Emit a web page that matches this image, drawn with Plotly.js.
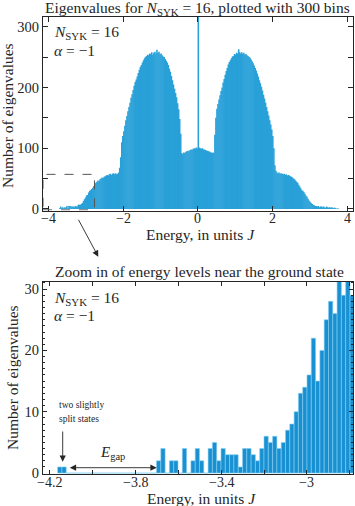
<!DOCTYPE html>
<html>
<head>
<meta charset="utf-8">
<script src="https://cdn.plot.ly/plotly-3.0.1.min.js"></script>
<style>
  html, body { margin: 0; padding: 0; background: #fff; }
  #plot { width: 355px; height: 506px; }
</style>
</head>
<body>
<div id="plot"></div>
<script>
// full spectrum, 300 bins between topEdgeMin and topEdgeMax
var topEdgeMin = -4.16;
var topEdgeMax = 4.16;
var topCounts = [
    1, 1, 0, 0, 0, 0, 0, 0, 0, 0,
    0, 0, 0, 0, 0, 0, 1, 4, 1, 3,
    1, 3, 2, 5, 1, 5, 5, 4, 4, 4,
    3, 5, 4, 4, 7, 7, 7, 8, 10, 13,
    16, 19, 22, 23, 27, 30, 31, 33, 35, 38,
    41, 43, 45, 47, 46, 49, 50, 52, 51, 53,
    54, 55, 56, 55, 57, 58, 56, 58, 59, 57,
    59, 57, 58, 60, 68, 85, 110, 120, 128, 137,
    146, 153, 161, 168, 175, 183, 189, 196, 203, 209,
    213, 218, 224, 229, 234, 237, 241, 245, 248, 250,
    252, 254, 253, 256, 255, 258, 254, 257, 259, 256,
    262, 257, 259, 255, 256, 253, 251, 250, 247, 244,
    241, 237, 231, 226, 219, 212, 205, 198, 191, 184,
    174, 164, 148, 124, 92, 90, 93, 92, 94, 95,
    96, 95, 97, 98, 97, 99, 100, 99, 101, 100,
    420,
    101, 100, 99, 100, 98, 98, 97, 96, 96, 95,
    94, 93, 93, 92, 93, 122, 150, 165, 173, 180,
    187, 194, 200, 208, 214, 221, 227, 232, 238, 242,
    245, 248, 251, 252, 255, 254, 257, 256, 263, 258,
    256, 258, 255, 257, 254, 255, 253, 252, 250, 249,
    246, 243, 240, 236, 232, 228, 223, 218, 212, 207,
    201, 195, 188, 182, 175, 168, 161, 154, 146, 139,
    131, 120, 100, 72, 63, 60, 59, 60, 58, 59,
    58, 57, 58, 56, 57, 55, 56, 55, 54, 53,
    52, 50, 49, 47, 45, 43, 40, 37, 34, 31,
    30, 28, 25, 22, 20, 17, 14, 12, 10, 8,
    7, 6, 5, 5, 4, 5, 3, 4, 4, 3,
    4, 3, 2, 4, 3, 2, 3, 2, 3, 1,
    2, 2, 1, 0, 1, 0, 0, 0, 0, 0,
    0, 0, 0, 0, 0, 0, 0, 1, 1
];

// zoom near the ground state, bins of 0.02 starting at zoomEdgeMin
var zoomEdgeMin = -4.16;
var zoomBinWidth = 0.02;
var zoomCounts = [
    1, 1,
    0, 0, 0, 0, 0, 0, 0, 0, 0, 0, 0, 0, 0, 0, 0, 0, 0, 0, 0, 0, 0,
    2, 4, 0, 2, 2, 0, 4, 0, 2, 4,
    2, 0, 4, 5, 2, 4, 3, 3, 3, 1,
    4, 4, 3, 2, 4, 6, 5, 6, 4, 5,
    7, 8, 10, 13, 14, 16, 22, 15, 20, 25,
    28, 26, 33, 29, 32, 29
];

var topXTicks = [-4, -2, 0, 2, 4];
var topXTickText = ['\u22124', '\u22122', '0', '2', '4'];
var topYTicks = [0, 50, 100, 150, 200, 250, 300];
var topYTickText = ['0', '', '100', '', '200', '', '300'];
var zoomXTicks = [-4.2, -4.0, -3.8, -3.6, -3.4, -3.2, -3.0, -2.8];
var zoomXTickText = ['\u22124.2', '', '\u22123.8', '', '\u22123.4', '', '\u22123', ''];
var zoomYTicks = [0, 10, 20, 30];

var W = 355, H = 506;
var ink = '#262626';
var serif = "'Liberation Serif', 'Times New Roman', serif";
var fs = 15.5;

// pixel -> paper helpers (margins are zero, paper == page)
function px(x) { return x / W; }
function py(y) { return 1 - y / H; }

var topBinWidth = (topEdgeMax - topEdgeMin) / topCounts.length;
var topCenters = topCounts.map(function (c, i) { return topEdgeMin + (i + 0.5) * topBinWidth; });
var zoomCenters = zoomCounts.map(function (c, i) { return zoomEdgeMin + (i + 0.5) * zoomBinWidth; });

var traces = [{
    type: 'bar',
    x: topCenters,
    y: topCounts,
    width: topBinWidth * 1.5, // overlap a little so 1px bars don't leave seams
    marker: {color: '#29a0d8', line: {width: 0}},
    xaxis: 'x',
    yaxis: 'y',
    hoverinfo: 'skip'
}, {
    type: 'bar',
    x: zoomCenters,
    y: zoomCounts,
    width: zoomBinWidth,
    marker: {color: '#1890d2', line: {width: 0.6, color: '#86d0f2'}},
    xaxis: 'x2',
    yaxis: 'y2',
    hoverinfo: 'skip'
}];

var axisBase = {
    showline: true,
    linecolor: ink,
    linewidth: 1,
    mirror: 'allticks',
    ticks: 'inside',
    tickcolor: ink,
    tickwidth: 1,
    showgrid: false,
    zeroline: false,
    tickfont: {family: serif, size: 14.5, color: ink}
};

function axis(extra) {
    return Object.assign({}, axisBase, extra);
}

var layout = {
    width: W,
    height: H,
    margin: {l: 0, r: 0, t: 0, b: 0},
    paper_bgcolor: '#fff',
    plot_bgcolor: '#fff',
    showlegend: false,
    barmode: 'overlay',
    xaxis: axis({
        domain: [px(43), px(353)], anchor: 'y', range: [-4.15, 4.16],
        tickmode: 'array', tickvals: topXTicks, ticklen: 5, showticklabels: false
    }),
    yaxis: axis({
        domain: [py(210.5), py(17)], anchor: 'x', range: [-2.5, 316],
        tickmode: 'array', tickvals: topYTicks, ticktext: topYTickText, ticklen: 5
    }),
    xaxis2: axis({
        domain: [px(43), px(353)], anchor: 'y2', range: [-4.228, -2.786],
        tickmode: 'array', tickvals: zoomXTicks, ticklen: 4, showticklabels: false
    }),
    yaxis2: axis({
        domain: [py(474), py(281.7)], anchor: 'x2', range: [-0.15, 31.2],
        tickmode: 'array', tickvals: zoomYTicks, ticklen: 4,
        minor: {dtick: 1, ticks: 'inside', ticklen: 2, tickcolor: ink, tickwidth: 1}
    }),
    shapes: [{
        type: 'rect', xref: 'x', yref: 'y',
        x0: -4.15, x1: -2.77, y0: -1.5, y1: 57,
        line: {color: '#555', width: 1, dash: 'dash'}
    }],
    annotations: []
};

function label(text, x, y, size, extra) {
    layout.annotations.push(Object.assign({
        text: text, x: px(x), y: py(y), xref: 'paper', yref: 'paper',
        xanchor: 'center', yanchor: 'middle', showarrow: false,
        font: {family: serif, size: size, color: ink}
    }, extra || {}));
}

function arrow(x0, y0, x1, y1, both) {
    layout.annotations.push({
        text: '', x: px(x1), y: py(y1), xref: 'paper', yref: 'paper',
        ax: x0 - x1, ay: y0 - y1, showarrow: true,
        arrowhead: 2, arrowsize: 1.4, arrowwidth: 0.9, arrowcolor: ink,
        arrowside: both ? 'end+start' : 'end', startarrowhead: 2, startarrowsize: 1.4,
        standoff: 0, startstandoff: 0
    });
}

// x tick labels sit tight under the axis like matlab does
function xTickLabels(vals, texts, xref, y) {
    vals.forEach(function (v, i) {
        if (!texts[i]) return;
        layout.annotations.push({
            text: texts[i], x: v, y: py(y), xref: xref, yref: 'paper',
            xanchor: 'center', yanchor: 'middle', showarrow: false,
            font: {family: serif, size: 14, color: ink}
        });
    });
}

xTickLabels(topXTicks, topXTickText, 'x', 219);
xTickLabels(zoomXTicks, zoomXTickText, 'x2', 482);

label('Eigenvalues for <i>N</i><sub>SYK</sub> = 16, plotted with 300 bins', 197, 8, fs);
label('Number of eigenvalues', 7, 116, fs, {textangle: -90});
label('Energy, in units <i>J</i>', 200, 234, fs);
label('<i>N</i><sub>SYK</sub> = 16', 52, 33, fs, {xanchor: 'left'});
label('<i>\u03b1</i> = \u22121', 52, 51, fs, {xanchor: 'left'});

label('Zoom in of energy levels near the ground state', 199, 271.5, fs);
label('Number of eigenvalues', 12, 378, fs, {textangle: -90});
label('Energy, in units <i>J</i>', 201, 498, fs);
label('<i>N</i><sub>SYK</sub> = 16', 52, 298, fs, {xanchor: 'left'});
label('<i>\u03b1</i> = \u22121', 52, 315, fs, {xanchor: 'left'});

label('two slightly', 57, 405, 9.5, {xanchor: 'left'});
label('split states', 57, 418.5, 9.5, {xanchor: 'left'});
label('<i>E</i><sub>gap</sub>', 112, 453, 15);

arrow(77.7, 218.3, 98.3, 256.7, false);
arrow(62.7, 430, 62.7, 461.7, false);
arrow(68.3, 467.7, 156.7, 467.7, true);

Plotly.newPlot('plot', traces, layout, {staticPlot: true, displayModeBar: false});
</script>
</body>
</html>
